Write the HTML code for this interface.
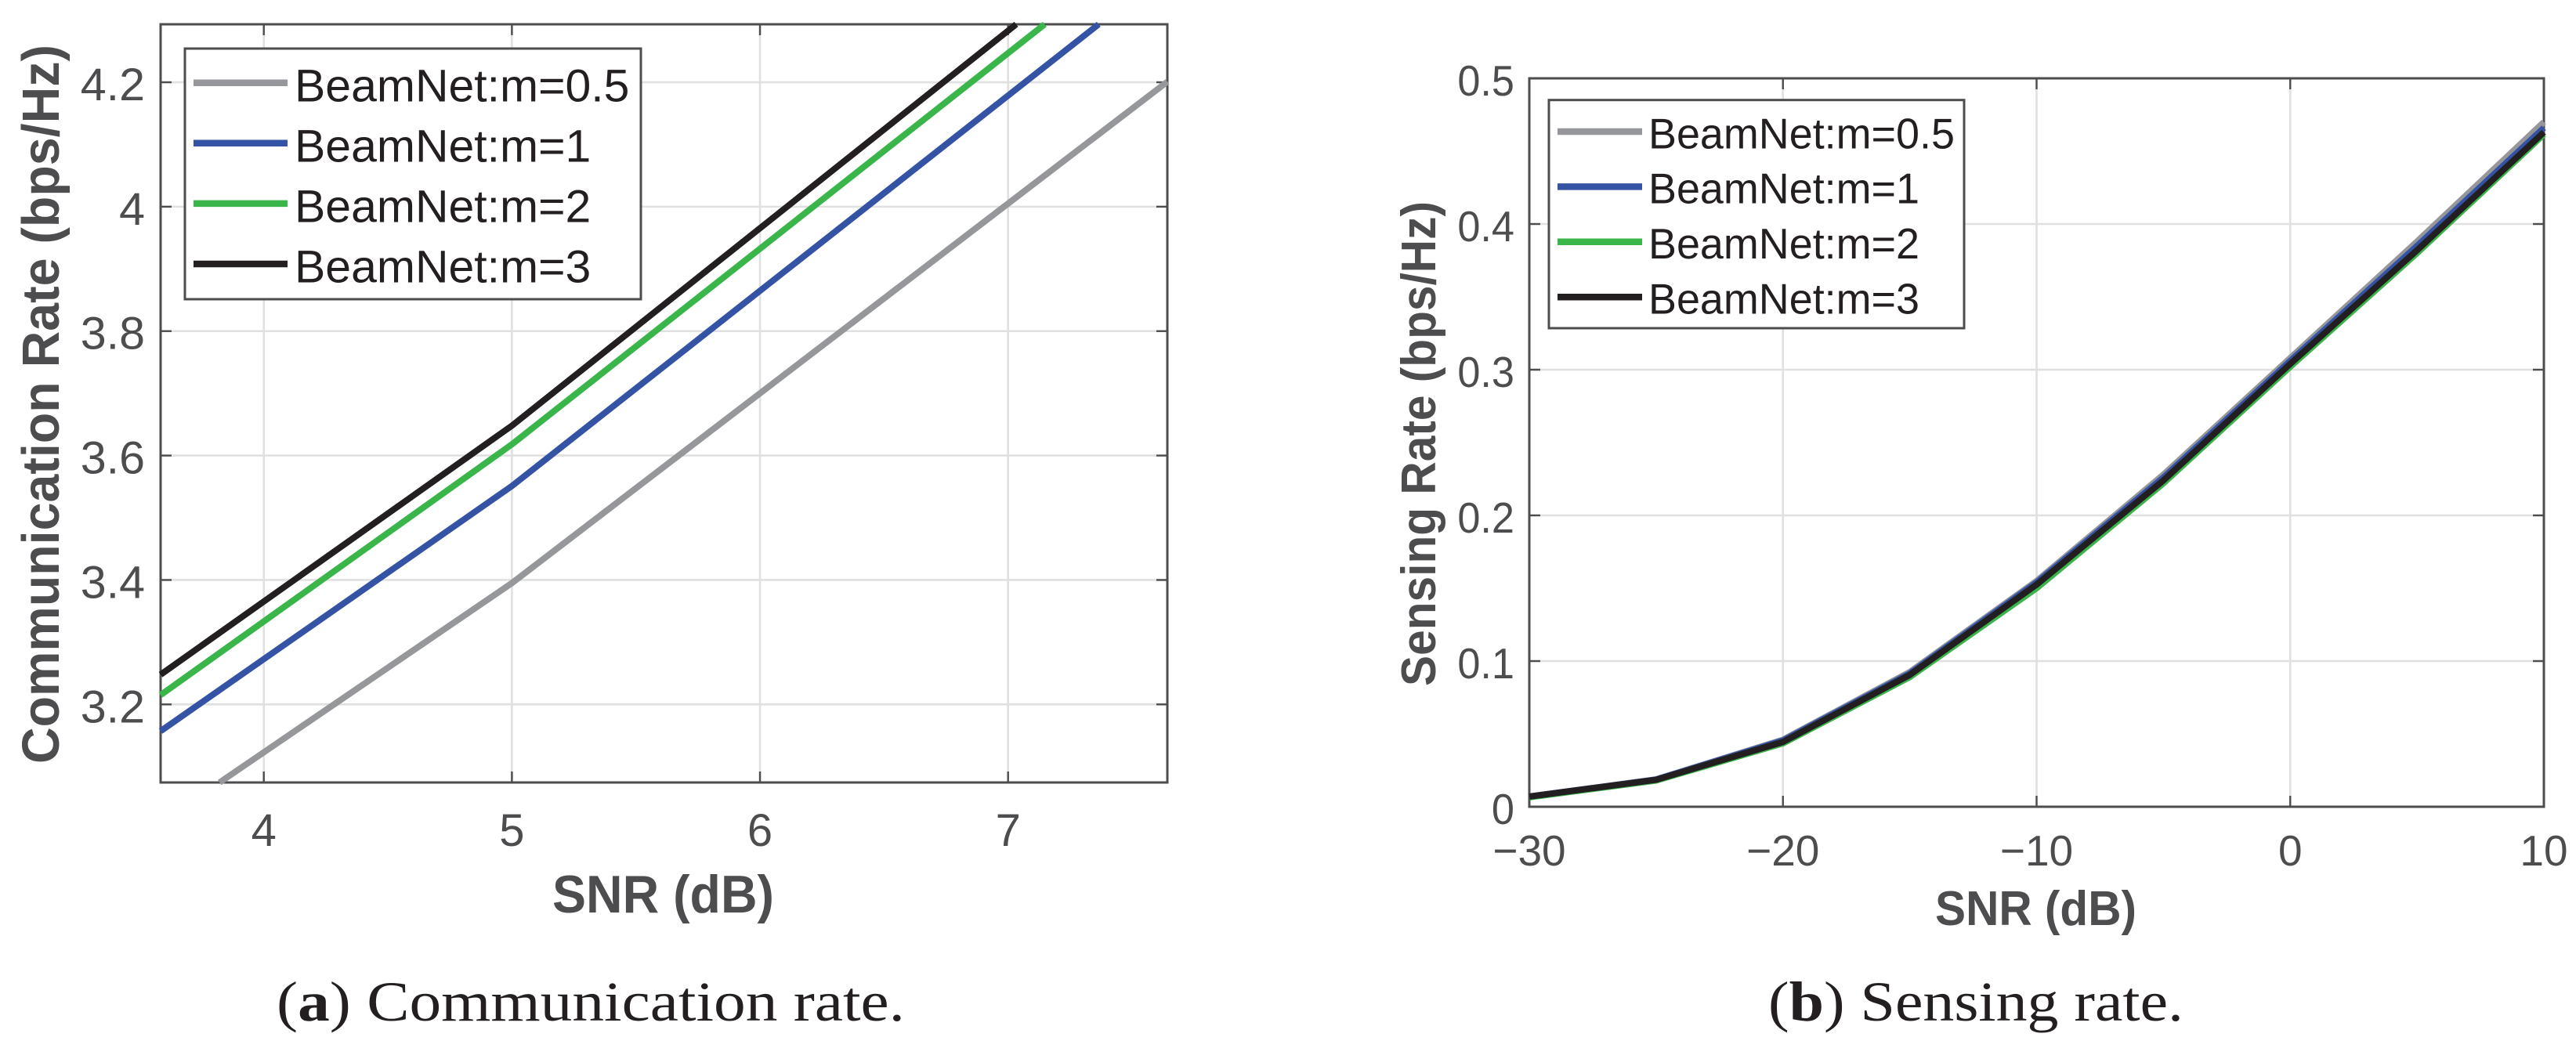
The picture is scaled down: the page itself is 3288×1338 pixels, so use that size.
<!DOCTYPE html>
<html lang="en">
<head>
<meta charset="utf-8">
<title>Communication rate and sensing rate</title>
<style>
html,body{margin:0;padding:0;background:#fff;}
svg{display:block;}
text{font-family:"Liberation Sans",Arial,sans-serif;}
.cap{font-family:"Liberation Serif","Times New Roman",serif;font-size:72px;fill:#231f20;}
.title{font-weight:bold;fill:#4d4d4f;}
</style>
</head>
<body>
<svg id="fig" xmlns="http://www.w3.org/2000/svg" width="3288" height="1338" viewBox="0 0 3288 1338">
  <rect x="0" y="0" width="3288" height="1338" fill="#ffffff"/>
  <g id="panelA"></g>
  <g id="panelB"></g>
  <text class="title" transform="translate(75 516) rotate(-90)" text-anchor="middle" font-size="67" textLength="918" lengthAdjust="spacingAndGlyphs">Communication Rate (bps/Hz)</text>
  <text class="title" x="846.5" y="1165" text-anchor="middle" font-size="68" textLength="283" lengthAdjust="spacingAndGlyphs">SNR (dB)</text>
  <text class="title" transform="translate(1832 566.5) rotate(-90)" text-anchor="middle" font-size="62.5" textLength="619" lengthAdjust="spacingAndGlyphs">Sensing Rate (bps/Hz)</text>
  <text class="title" x="2598.5" y="1181" text-anchor="middle" font-size="62.5" textLength="257" lengthAdjust="spacingAndGlyphs">SNR (dB)</text>
  <text class="cap" x="353" y="1303" textLength="802" lengthAdjust="spacingAndGlyphs">(<tspan font-weight="bold">a</tspan>) Communication rate.</text>
  <text class="cap" x="2257" y="1303" textLength="530" lengthAdjust="spacingAndGlyphs">(<tspan font-weight="bold">b</tspan>) Sensing rate.</text>
</svg>
<script>
// Shared series names and colours
const seriesLabels = ["BeamNet:m=0.5", "BeamNet:m=1", "BeamNet:m=2", "BeamNet:m=3"];
const seriesColors = ["#96979a", "#3453a4", "#3ab54a", "#231f20"];

// Panel (a) data: communication rate
const snrA = [0, 5, 10];
const commM05 = [2.035, 3.395, 4.92];
const commM1 = [2.16, 3.551, 5.12];
const commM2 = [2.195, 3.618, 5.19];
const commM3 = [2.235, 3.648, 5.235];
const xTicksA = [4, 5, 6, 7];
const xTickLabelsA = ["4", "5", "6", "7"];
const yTicksA = [3.2, 3.4, 3.6, 3.8, 4, 4.2];
const yTickLabelsA = ["3.2", "3.4", "3.6", "3.8", "4", "4.2"];

// Panel (b) data: sensing rate
const snrB = [-30, -25, -20, -15, -10, -5, 0, 5, 10];
const senseM05 = [0.007, 0.0188, 0.046, 0.0925, 0.155, 0.228, 0.308, 0.388, 0.470];
const senseM1 = [0.007, 0.0187, 0.0455, 0.0915, 0.154, 0.226, 0.306, 0.385, 0.466];
const senseM2 = [0.0065, 0.018, 0.0435, 0.089, 0.150, 0.222, 0.302, 0.380, 0.4615];
const senseM3 = [0.007, 0.0185, 0.0445, 0.0905, 0.1525, 0.224, 0.304, 0.382, 0.463];
const xTicksB = [-30, -20, -10, 0, 10];
const xTickLabelsB = ["\u221230", "\u221220", "\u221210", "0", "10"];
const yTicksB = [0, 0.1, 0.2, 0.3, 0.4, 0.5];
const yTickLabelsB = ["0", "0.1", "0.2", "0.3", "0.4", "0.5"];

const NS = "http://www.w3.org/2000/svg";
const AXIS = "#4d4d4f", GRID = "#e0e0e1";

function make(parent, tag, attrs) {
  const el = document.createElementNS(NS, tag);
  for (const k in attrs) el.setAttribute(k, attrs[k]);
  parent.appendChild(el);
  return el;
}

// Clip a segment to the axis limits in data space
function clipSegment(x0, y0, x1, y1, lim) {
  let t0 = 0, t1 = 1;
  const dx = x1 - x0, dy = y1 - y0;
  const p = [-dx, dx, -dy, dy];
  const q = [x0 - lim.xMin, lim.xMax - x0, y0 - lim.yMin, lim.yMax - y0];
  for (let i = 0; i < 4; i++) {
    if (p[i] === 0) { if (q[i] < 0) return null; continue; }
    const r = q[i] / p[i];
    if (p[i] < 0) { if (r > t1) return null; if (r > t0) t0 = r; }
    else { if (r < t0) return null; if (r < t1) t1 = r; }
  }
  return [[x0 + t0 * dx, y0 + t0 * dy], [x0 + t1 * dx, y0 + t1 * dy]];
}

function drawPanel(root, cfg) {
  const sx = v => cfg.xA + (v - cfg.lim.xMin) / (cfg.lim.xMax - cfg.lim.xMin) * (cfg.xB - cfg.xA);
  const sy = v => cfg.yB - (v - cfg.lim.yMin) / (cfg.lim.yMax - cfg.lim.yMin) * (cfg.yB - cfg.yA);

  cfg.xTicks.forEach((v, i) => {
    const x = sx(v);
    const grid = make(root, "line", {x1: x, x2: x, y1: cfg.yA, y2: cfg.yB, stroke: GRID, "stroke-width": 2.6});
    
    
    const tickBottom = make(root, "line", {x1: x, x2: x, y1: cfg.yB, y2: cfg.yB - 14, stroke: AXIS, "stroke-width": 2.4});
    
    
    const tickTop = make(root, "line", {x1: x, x2: x, y1: cfg.yA, y2: cfg.yA + 14, stroke: AXIS, "stroke-width": 2.4});
    
    
    const label = make(root, "text", {x: x, y: cfg.xLabelY, "text-anchor": "middle", "font-size": cfg.tickFont, fill: AXIS});
    label.textContent = cfg.xTickLabels[i];
    
    
    label.setAttribute("textLength", label.getComputedTextLength() * cfg.xTickSqueeze);
    label.setAttribute("lengthAdjust", "spacingAndGlyphs");
  });

  cfg.yTicks.forEach((v, i) => {
    const y = sy(v);
    const grid = make(root, "line", {x1: cfg.xA, x2: cfg.xB, y1: y, y2: y, stroke: GRID, "stroke-width": 2.6});
    
    
    const tickLeft = make(root, "line", {x1: cfg.xA, x2: cfg.xA + 14, y1: y, y2: y, stroke: AXIS, "stroke-width": 2.4});
    
    
    const tickRight = make(root, "line", {x1: cfg.xB, x2: cfg.xB - 14, y1: y, y2: y, stroke: AXIS, "stroke-width": 2.4});
    
    
    const label = make(root, "text", {x: cfg.yLabelX, y: y + cfg.yLabelDy, "text-anchor": "end", "font-size": cfg.tickFont, fill: AXIS});
    label.textContent = cfg.yTickLabels[i];
    
    
    label.setAttribute("textLength", label.getComputedTextLength() * cfg.yTickSqueeze);
    label.setAttribute("lengthAdjust", "spacingAndGlyphs");
  });

  const box = make(root, "rect", {x: cfg.xA, y: cfg.yA, width: cfg.xB - cfg.xA, height: cfg.yB - cfg.yA, fill: "none", stroke: AXIS, "stroke-width": 3});
  
  

  cfg.series.forEach((vals, s) => {
    const pts = [];
    for (let i = 0; i + 1 < cfg.xs.length; i++) {
      const seg = clipSegment(cfg.xs[i], vals[i], cfg.xs[i + 1], vals[i + 1], cfg.lim);
      if (!seg) continue;
      if (!pts.length) pts.push(seg[0]);
      pts.push(seg[1]);
    }
    const line = make(root, "polyline", {
      points: pts.map(p => sx(p[0]).toFixed(2) + "," + sy(p[1]).toFixed(2)).join(" "),
      fill: "none", stroke: seriesColors[s], "stroke-width": 8, "stroke-linejoin": "round", "stroke-linecap": "butt"
    });
    
    
  });

  const legend = make(root, "g", {});
  
  
  const lg = cfg.legend;
  const frame = make(legend, "rect", {x: lg.x, y: lg.y, width: lg.w, height: lg.h, fill: "#ffffff", stroke: AXIS, "stroke-width": 3});
  
  
  seriesLabels.forEach((name, i) => {
    const y = lg.row0 + i * lg.rowStep;
    const sample = make(legend, "line", {x1: lg.lineA, x2: lg.lineB, y1: y, y2: y, stroke: seriesColors[i], "stroke-width": 8.5});
    
    
    const t = make(legend, "text", {x: lg.textX, y: y + lg.textDy, "font-size": lg.font, fill: "#231f20"});
    t.textContent = name;
    
    
    t.setAttribute("textLength", t.getComputedTextLength() * lg.squeeze);
    t.setAttribute("lengthAdjust", "spacingAndGlyphs");
  });
}

drawPanel(document.getElementById("panelA"), {
  xA: 205, xB: 1490, yA: 31, yB: 999,
  lim: {xMin: 3.584, xMax: 7.642, yMin: 3.0745, yMax: 4.2932},
  xs: snrA, series: [commM05, commM1, commM2, commM3],
  xTicks: xTicksA, xTickLabels: xTickLabelsA, yTicks: yTicksA, yTickLabels: yTickLabelsA,
  xTickSqueeze: 1.0, yTickSqueeze: 1.02, tickFont: 58, xLabelY: 1080, yLabelX: 185, yLabelDy: 23,
  legend: {x: 236, y: 62, w: 582, h: 320, row0: 105.7, rowStep: 77.1, lineA: 247, lineB: 367, textX: 376, textDy: 23.6, font: 58, squeeze: 1.016}
});

drawPanel(document.getElementById("panelB"), {
  xA: 1952, xB: 3247, yA: 100, yB: 1030,
  lim: {xMin: -30, xMax: 10, yMin: 0, yMax: 0.5},
  xs: snrB, series: [senseM05, senseM1, senseM2, senseM3],
  xTicks: xTicksB, xTickLabels: xTickLabelsB, yTicks: yTicksB, yTickLabels: yTickLabelsB,
  xTickSqueeze: 1.0, yTickSqueeze: 0.95, tickFont: 55, xLabelY: 1105, yLabelX: 1933, yLabelDy: 22,
  legend: {x: 1977, y: 127.7, w: 530, h: 291.3, row0: 168, rowStep: 70.4, lineA: 1988, lineB: 2096, textX: 2104, textDy: 21.3, font: 55, squeeze: 0.98}
});
</script>
</body>
</html>
